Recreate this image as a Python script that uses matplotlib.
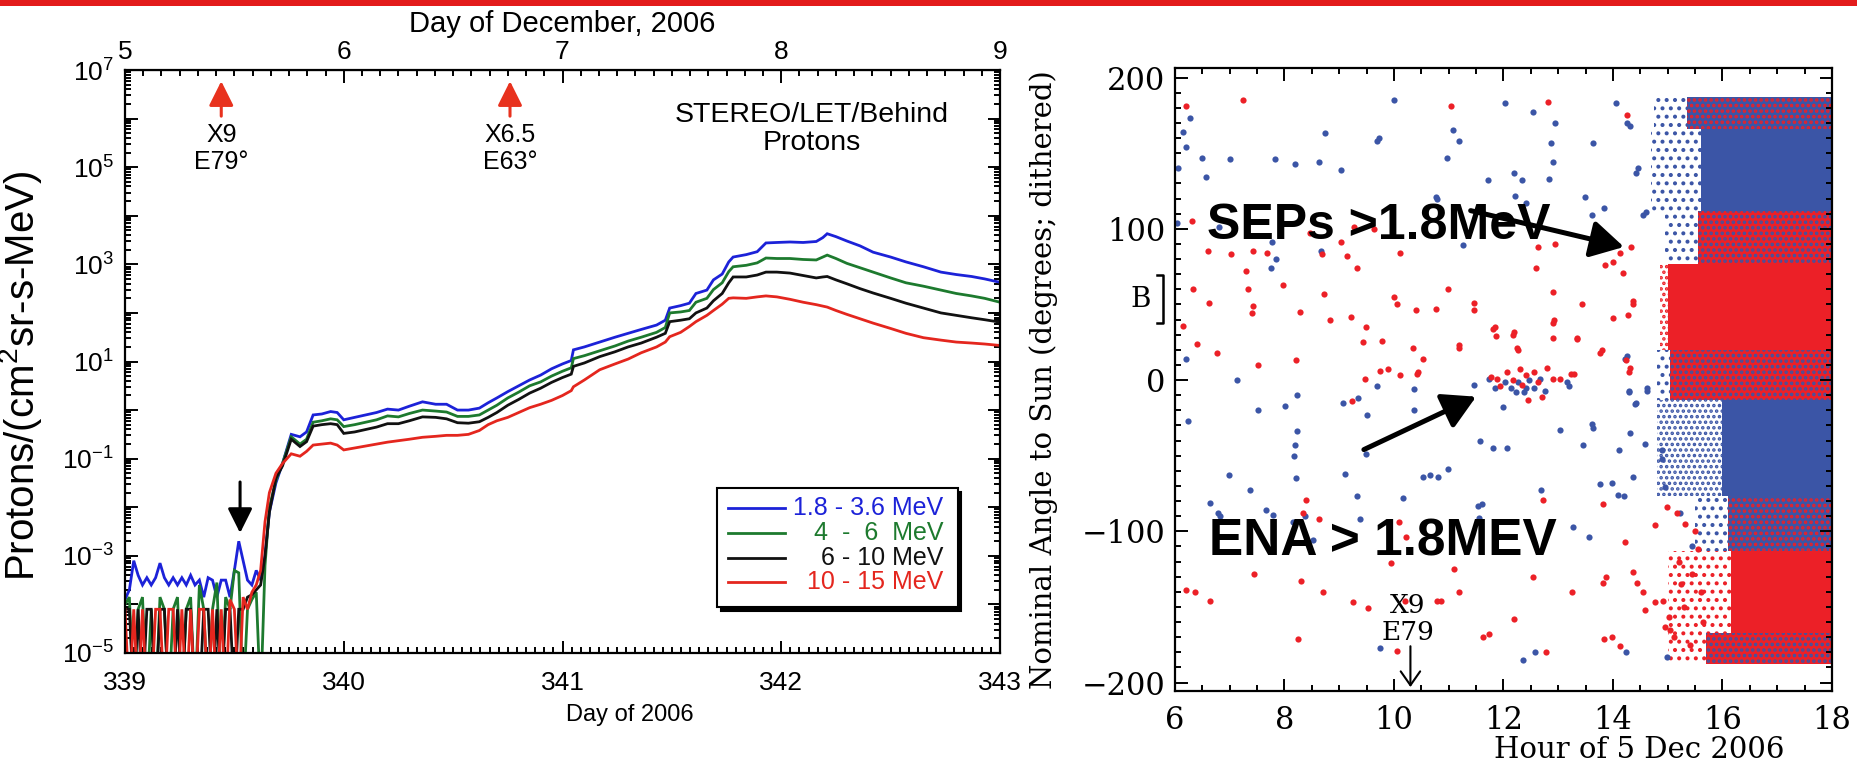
import matplotlib
matplotlib.use("Agg")
import matplotlib.pyplot as plt
import numpy as np
from matplotlib.patches import Rectangle
from matplotlib.ticker import LogLocator, MultipleLocator, FuncFormatter, NullFormatter

plt.rcParams["mathtext.fontset"] = "custom"
plt.rcParams["mathtext.rm"] = "Liberation Sans"
plt.rcParams["mathtext.it"] = "Liberation Sans:italic"
plt.rcParams["hatch.linewidth"] = 1.7

SANS = "Liberation Sans"
SERIF = "DejaVu Serif"

# ---------------- left panel: LET proton intensities (log10 values) ----------------
pre_days = [339.00, 339.02, 339.04, 339.06, 339.08, 339.10, 339.12, 339.14, 339.16, 339.18,
            339.20, 339.22, 339.24, 339.26, 339.28, 339.30, 339.32, 339.34, 339.36, 339.38,
            339.40, 339.42, 339.44, 339.46, 339.48, 339.50, 339.52, 339.54, 339.56, 339.58, 339.60]
post_days = [339.62, 339.64, 339.66, 339.69, 339.72, 339.76, 339.80, 339.83, 339.86, 339.90,
             339.94, 339.97, 340.00, 340.05, 340.10, 340.15, 340.20, 340.25, 340.30, 340.36,
             340.42, 340.47, 340.52, 340.57, 340.62, 340.66, 340.70, 340.75, 340.80, 340.85,
             340.90, 340.95, 341.00, 341.04, 341.05, 341.10, 341.17, 341.24, 341.30, 341.36,
             341.43, 341.47, 341.49, 341.54, 341.58, 341.61, 341.66, 341.69, 341.73, 341.76,
             341.78, 341.84, 341.89, 341.93, 341.98, 342.04, 342.10, 342.16, 342.19, 342.21,
             342.25, 342.30, 342.36, 342.42, 342.50, 342.57, 342.65, 342.73, 342.80, 342.87,
             342.93, 343.00]

# -6 marks zero counts (drawn below the axis floor)
blue_pre = [-3.9, -3.7, -3.1, -3.4, -3.6, -3.45, -3.6, -3.45, -3.15, -3.45,
            -3.6, -3.45, -3.6, -3.45, -3.6, -3.4, -3.6, -3.5, -3.85, -3.45,
            -3.5, -3.85, -3.5, -3.5, -3.85, -3.3, -2.7, -3.1, -3.5, -3.6, -3.3]
green_pre = [-4.0, -3.85, -6, -4.1, -3.85, -6, -4.1, -6, -3.85, -4.1,
             -6, -4.1, -3.85, -6, -4.1, -3.85, -6, -3.6, -4.1, -6,
             -4.1, -3.55, -6, -3.85, -4.1, -3.3, -3.35, -6, -4.1, -3.9, -3.75]
black_pre = [-4.1, -4.1, -6, -4.1, -6, -4.1, -4.1, -6, -4.1, -4.1,
             -6, -6, -4.1, -6, -4.1, -4.1, -6, -6, -4.1, -4.1,
             -6, -4.1, -6, -4.1, -4.1, -6, -4.1, -4.1, -3.85, -3.8, -3.7]
red_pre = [-4.1, -6, -4.1, -6, -4.1, -6, -6, -4.1, -4.1, -6,
           -4.1, -4.1, -6, -4.1, -6, -4.1, -6, -4.1, -4.1, -6,
           -4.1, -6, -4.1, -6, -3.9, -4.1, -6, -3.85, -4.1, -3.75, -3.6]

blue_post = [-3.5, -3.0, -2.1, -1.5, -1.1, -0.5, -0.55, -0.45, -0.1, -0.08,
             -0.03, -0.05, -0.2, -0.15, -0.1, -0.05, 0.02, 0.0, 0.08, 0.17,
             0.12, 0.12, 0.0, 0.0, 0.04, 0.15, 0.25, 0.38, 0.5, 0.62,
             0.72, 0.85, 0.95, 1.02, 1.24, 1.3, 1.4, 1.5, 1.58, 1.66,
             1.75, 1.85, 2.1, 2.15, 2.2, 2.4, 2.47, 2.68, 2.8, 3.05,
             3.15, 3.2, 3.26, 3.44, 3.45, 3.46, 3.45, 3.47, 3.55, 3.63,
             3.57, 3.48, 3.38, 3.25, 3.15, 3.05, 2.95, 2.84, 2.79, 2.75,
             2.7, 2.63]
green_post = [-6, -3.2, -2.0, -1.45, -1.1, -0.55, -0.7, -0.6, -0.25, -0.22,
              -0.18, -0.2, -0.34, -0.3, -0.25, -0.2, -0.12, -0.14, -0.07, 0.0,
              -0.02, -0.04, -0.13, -0.13, -0.1, 0.0, 0.1, 0.25, 0.37, 0.5,
              0.58, 0.7, 0.8, 0.87, 1.06, 1.12, 1.22, 1.32, 1.42, 1.5,
              1.6, 1.7, 2.0, 2.02, 2.05, 2.22, 2.3, 2.48, 2.62, 2.85,
              2.95, 2.98, 3.03, 3.13, 3.12, 3.12, 3.1, 3.09, 3.15, 3.19,
              3.12, 3.02, 2.93, 2.84, 2.72, 2.62, 2.55, 2.47, 2.4, 2.35,
              2.3, 2.22]
black_post = [-3.6, -3.0, -2.1, -1.4, -1.15, -0.6, -0.75, -0.65, -0.33, -0.3,
              -0.28, -0.3, -0.48, -0.45, -0.4, -0.35, -0.28, -0.28, -0.22, -0.14,
              -0.15, -0.18, -0.26, -0.27, -0.24, -0.15, -0.05, 0.1, 0.22, 0.35,
              0.45, 0.57, 0.67, 0.74, 0.9, 0.97, 1.1, 1.2, 1.3, 1.38,
              1.5, 1.58, 1.82, 1.85, 1.88, 2.0, 2.1, 2.25, 2.4, 2.62,
              2.74, 2.74, 2.78, 2.84, 2.84, 2.82, 2.77, 2.72, 2.74, 2.75,
              2.68, 2.6, 2.5, 2.41, 2.3, 2.2, 2.1, 2.0, 1.95, 1.9,
              1.86, 1.81]
red_post = [-3.3, -2.3, -1.7, -1.3, -1.1, -0.9, -0.95, -0.85, -0.72, -0.7,
            -0.68, -0.72, -0.82, -0.78, -0.74, -0.7, -0.66, -0.63, -0.6, -0.56,
            -0.54, -0.52, -0.52, -0.5, -0.42, -0.3, -0.22, -0.15, -0.05, 0.05,
            0.12, 0.2, 0.3, 0.4, 0.48, 0.62, 0.83, 0.95, 1.05, 1.18,
            1.3, 1.4, 1.51, 1.6, 1.72, 1.82, 1.95, 2.05, 2.18, 2.3,
            2.31, 2.3, 2.33, 2.35, 2.33, 2.28, 2.22, 2.17, 2.14, 2.12,
            2.05, 1.97, 1.88, 1.79, 1.68, 1.58, 1.49, 1.44, 1.4, 1.38,
            1.36, 1.33]

channels = ["1.8 - 3.6 MeV", "4  -  6  MeV", "6 - 10 MeV", "10 - 15 MeV"]
chan_colors = ["#1c22d8", "#1d7a2e", "#111111", "#e4261e"]
chan_pre = [blue_pre, green_pre, black_pre, red_pre]
chan_post = [blue_post, green_post, black_post, red_post]

flares = ["X9\nE79°", "X6.5\nE63°"]
flare_days = [339.44, 340.76]
onset_day = 339.526

# ---------------- right panel: nominal angle vs hour (sparse events) ----------------
red_hour = [6.21, 7.24, 6.31, 6.60, 7.02, 7.43, 7.68, 7.30, 6.32, 7.33, 6.62, 7.42, 7.41, 6.15, 6.40,
            6.77, 7.52, 8.21, 7.97, 8.28, 8.46, 8.68, 8.72, 8.83, 9.04, 9.14, 9.33, 9.21, 9.27, 9.63,
            9.49, 9.43, 9.78, 10.00, 10.05, 10.11, 10.41, 10.77, 10.35, 10.53, 9.74, 9.89, 9.47, 10.11, 10.44,
            11.05, 12.81, 14.25, 12.63, 12.94, 12.60, 14.33, 14.13, 14.00, 13.85, 14.18, 10.99, 12.90, 13.43, 14.37,
            11.46, 11.46, 12.92, 14.00, 14.28, 11.84, 11.87, 12.19, 12.90, 13.34, 11.19, 12.25, 13.79, 14.31, 13.77,
            14.24, 14.30, 12.26, 11.18, 10.42, 12.18, 11.81, 12.90, 13.35, 14.36,
            6.20, 6.37, 6.64, 7.44, 8.24, 8.31, 8.70, 8.39, 8.34, 8.63, 9.25, 9.53, 9.95, 10.05, 10.09,
            10.22, 10.20, 10.78, 9.23, 12.72, 13.81, 11.09, 11.19, 10.86, 12.54, 13.26, 12.19, 11.63, 11.74, 12.77,
            14.22, 12.63, 13.82, 13.88, 14.36, 14.44, 14.55, 14.58, 14.77, 13.84, 13.98, 14.13, 14.77, 14.91, 15.02,
            14.98, 15.16, 15.32, 15.20, 15.25, 15.30, 15.05, 15.12, 14.95, 15.40, 15.45, 15.55, 15.60, 15.65, 15.50,
            11.77, 12.06, 12.18, 12.30, 12.42, 12.55, 12.63, 12.79, 12.91, 13.04, 13.24, 13.28, 12.45, 12.71, 11.93,
            12.33, 11.89]
red_angle = [181, 185, 105, 85, 83, 85, 84, 72, 60, 60, 51, 49, 44, 36, 24,
             18, 10, 13, 63, 45, 97, 83, 57, 40, 91, 82, 74, 42, 101, 100,
             35, 25, 26, 55, 50, 84, 46, 47, 21, 14, 6, 7, 1, 3, 5,
             181, 184, 175, 88, 90, 74, 88, 84, 78, 76, 71, 60, 58, 50, 52,
             51, 46, 40, 41, 43, 35, 29, 32, 28, 28, 23, 21, 20, 8, 18,
             13, 5, 20, 21, 4, 30, 34, 38, 27, 50,
             -139, -140, -146, -128, -171, -133, -140, -79, -88, -92, -147, -151, -121, -179, -94,
             -104, -146, -146, -14, -79, -82, -125, -140, -146, -130, -140, -158, -170, -168, -180,
             -107, -113, -134, -130, -127, -134, -140, -152, -96, -171, -170, -176, -147, -146, -157,
             -84, -88, -95, -120, -135, -150, -165, -170, -163, -175, -128, -112, -140, -160, -100,
             2, 5, 0, 7, 3, 5, -1, 8, 1, 1, 4, 4, -13, -11, -4,
             -3, 1]

blue_hour = [6.27, 6.15, 6.20, 6.49, 7.00, 6.05, 6.57, 7.83, 8.20, 8.63, 9.04, 8.74, 9.69, 9.73, 10.00,
             6.03, 6.80, 7.77, 7.84, 7.76, 8.66, 6.20, 10.78, 7.14,
             12.03, 12.54, 12.94, 14.05, 14.25, 14.31, 11.07, 11.19, 10.96, 12.86, 13.63, 12.91, 11.72, 12.19, 12.34,
             12.83, 14.46, 14.42, 10.77, 12.21, 12.41, 13.49, 13.84, 13.61, 13.70, 14.55, 14.61, 11.26, 14.25, 14.22,
             6.23, 7.52, 8.01, 8.22, 8.22, 8.19, 8.17, 8.21, 9.07, 9.34, 9.50, 9.69, 10.37, 10.37, 9.49,
             6.99, 7.37, 6.64, 6.79, 6.83, 7.67, 7.79, 8.16, 8.37, 8.52, 9.11, 9.32, 9.38, 10.17, 9.74,
             11.46, 11.99, 13.03, 13.61, 13.63, 14.29, 14.62, 14.42, 14.31, 11.57, 11.81, 12.06, 13.45, 14.11, 14.58,
             10.53, 10.66, 10.80, 10.99, 12.68, 13.76, 13.99, 14.09, 14.20, 14.37, 14.89, 14.89, 14.95, 11.53, 11.60,
             11.55, 13.27, 13.56, 15.22, 15.44, 14.24, 12.58, 12.36, 14.98, 14.30, 14.40, 14.63,
             11.73, 11.85, 12.02, 12.14, 12.26, 12.37, 12.47, 12.56, 12.67, 12.75, 13.16, 13.20, 12.22, 12.42]
blue_angle = [173, 164, 154, 147, 146, 140, 134, 146, 143, 144, 139, 163, 158, 160, 185,
              104, 101, 91, 80, 74, 85, 14, 120, 0,
              183, 177, 170, 183, 170, 168, 165, 158, 147, 157, 157, 144, 132, 137, 132,
              133, 140, 137, 121, 122, 117, 121, 114, 109, 100, 109, 111, 89, 16, 14,
              -27, -20, -17, -10, -34, -43, -50, -65, -15, -12, -23, -4, -6, -20, -49,
              -63, -73, -81, -88, -90, -86, -89, -94, -90, -106, -62, -77, -92, -78, -177,
              -3, -18, -33, -29, -32, -7, -5, -15, -35, -40, -45, -45, -43, -46, -42,
              -64, -63, -64, -59, -73, -69, -68, -76, -77, -64, -46, -52, -71, -83, -82,
              -91, -97, -104, -88, -110, -180, -180, -185, -183, -8, -16, -7,
              1, -5, -1, -5, -1, -8, 0, -5, 1, -7, -1, -4, -8, -5]

# dense SEP block after ~15 h, as angular bands
band_top = [187, 166, 112, 77, 20, -13, -77, -113, -167]
band_bottom = [166, 112, 77, 20, -13, -77, -113, -167, -188]
band_onset = [15.35, 15.6, 15.55, 15.0, 15.05, 16.0, 16.1, 16.15, 15.7]
band_fill = ["blue", "blue", "red", "red", "red", "blue", "blue", "red", "red"]
band_speckle = ["red", None, "blue", None, "blue", None, "red", None, "blue"]
edge_start = [14.75, 14.7, 14.95, 14.85, 14.8, 14.8, 15.5, 15.0, 15.0]
edge_color = ["blue", "blue", "blue", "red", "blue", "blue", "blue", "red", "red"]
edge_hatch = ["..", "..", "..", "...", "..", "...", "..", "..", ".."]

DOT = {"red": "#ec2027", "blue": "#3b55a6"}

fig = plt.figure(figsize=(18.58, 7.66), dpi=100)
fig.patch.set_facecolor("white")

# ================= left panel =================
ax = fig.add_axes([125 / 1858, 1 - 653 / 766, 875 / 1858, 583 / 766])
for pre, post, col in zip(chan_pre, chan_post, chan_colors):
    x = np.array(pre_days + post_days)
    y = 10.0 ** np.array(pre + post)
    ax.plot(x, y, color=col, lw=2.0, solid_joinstyle="miter")

ax.set_yscale("log")
ax.set_xlim(339, 343)
ax.set_ylim(1e-5, 1e7)
ax.set_xticks([339, 340, 341, 342, 343])
ax.xaxis.set_minor_locator(MultipleLocator(1 / 24))
ax.yaxis.set_major_locator(LogLocator(base=10, numticks=20))
ax.yaxis.set_minor_locator(LogLocator(base=10, subs=np.arange(2, 10), numticks=20))
ax.yaxis.set_minor_formatter(NullFormatter())


def odd_power(v, pos):
    e = int(round(np.log10(v)))
    return f"10$^{{{e}}}$" if e % 2 else ""


ax.yaxis.set_major_formatter(FuncFormatter(odd_power))
ax.tick_params(which="both", direction="in", top=False, right=True, width=1.4)
ax.tick_params(which="major", length=9, labelsize=19, pad=8)
ax.tick_params(axis="x", which="major", pad=13)
ax.tick_params(which="minor", length=4.5)
for lab in ax.get_xticklabels() + ax.get_yticklabels():
    lab.set_family(SANS)
for sp in ax.spines.values():
    sp.set_linewidth(1.6)

ax.set_xlabel("Day of 2006", family=SANS, fontsize=17)
ax.xaxis.set_label_coords(0.577, -0.088)
ax.set_ylabel("Protons/(cm$^2$sr-s-MeV)", family=SANS, fontsize=29)
ax.yaxis.set_label_coords(-0.093, 0.475)

top = ax.secondary_xaxis("top", functions=(lambda d: d - 334, lambda d: d + 334))
top.set_xticks([5, 6, 7, 8, 9])
top.xaxis.set_minor_locator(MultipleLocator(1 / 12))
top.tick_params(which="both", direction="in", width=1.4)
top.tick_params(which="major", length=9, labelsize=19, pad=4)
top.tick_params(which="minor", length=4.5)
for lab in top.get_xticklabels():
    lab.set_family(SANS)
top.set_xlabel("Day of December, 2006", family=SANS, fontsize=21, labelpad=6)

ax.text(0.785, 0.923, "STEREO/LET/Behind", transform=ax.transAxes, ha="center", va="center",
        family=SANS, fontsize=20.5)
ax.text(0.785, 0.875, "Protons", transform=ax.transAxes, ha="center", va="center",
        family=SANS, fontsize=20.5)

for name, d in zip(flares, flare_days):
    ax.annotate("", xy=(d, 10 ** 6.77), xytext=(d, 10 ** 6.05),
                arrowprops=dict(arrowstyle="-|>,head_length=0.6,head_width=0.3",
                                color="#e8321e", lw=2.2, mutation_scale=25, shrinkA=0, shrinkB=0))
    ax.text(d, 10 ** 5.38, name, ha="center", va="center", family=SANS, fontsize=18,
            linespacing=1.15)
ax.annotate("", xy=(onset_day, 10 ** -2.53), xytext=(onset_day, 10 ** -1.48),
            arrowprops=dict(arrowstyle="-|>,head_length=0.6,head_width=0.3",
                            color="black", lw=2.2, mutation_scale=25, shrinkA=0, shrinkB=0))

# legend box with drop shadow
ax.add_patch(Rectangle((0.6806, 0.0720), 0.2754, 0.2044, transform=ax.transAxes,
                       facecolor="black", edgecolor="black", lw=1.5, zorder=5))
ax.add_patch(Rectangle((0.6766, 0.0789), 0.2754, 0.2044, transform=ax.transAxes,
                       facecolor="white", edgecolor="black", lw=1.5, zorder=6))
leg_y = [0.2487, 0.2058, 0.1630, 0.1218]
for lab, col, yy in zip(channels, chan_colors, leg_y):
    ax.plot([0.6891, 0.7543], [yy, yy], color=col, lw=2.0, transform=ax.transAxes, zorder=7)
    ax.text(0.9349, yy, lab, color=col, transform=ax.transAxes, ha="right", va="center",
            family=SANS, fontsize=18, zorder=7)

# ================= right panel =================
bx = fig.add_axes([1175 / 1858, 1 - 691 / 766, 657 / 1858, 623 / 766])

for t, b, on, fill, speck, es, ec, eh in zip(band_top, band_bottom, band_onset, band_fill,
                                             band_speckle, edge_start, edge_color, edge_hatch):
    bx.barh((t + b) / 2, on - es, left=es, height=t - b, facecolor="none",
            hatch=eh, edgecolor=DOT[ec], lw=0, zorder=1)
    bx.barh((t + b) / 2, 18.2 - on, left=on, height=t - b, facecolor=DOT[fill],
            edgecolor=DOT[speck] if speck else DOT[fill], hatch="..." if speck else None,
            lw=0, zorder=1)

bx.scatter(blue_hour, blue_angle, s=20, color=DOT["blue"], lw=0, zorder=2)
bx.scatter(red_hour, red_angle, s=20, color=DOT["red"], lw=0, zorder=2)

bx.set_xlim(6, 18)
bx.set_ylim(-205.6, 206.3)
bx.set_xticks([6, 8, 10, 12, 14, 16, 18])
bx.set_yticks([-200, -100, 0, 100, 200])
bx.xaxis.set_minor_locator(MultipleLocator(0.5))
bx.yaxis.set_minor_locator(MultipleLocator(10))
bx.tick_params(which="both", direction="in", top=True, right=True, width=1.4)
bx.tick_params(which="major", length=9, labelsize=22)
bx.tick_params(axis="x", which="major", pad=10)
bx.tick_params(axis="y", which="major", pad=7)
bx.tick_params(which="minor", length=4.5)
for lab in bx.get_xticklabels() + bx.get_yticklabels():
    lab.set_family(SERIF)
for sp in bx.spines.values():
    sp.set_linewidth(1.6)

bx.set_ylabel("Nominal Angle to Sun (degrees; dithered)", family=SERIF, fontsize=21)
bx.yaxis.set_label_coords(-0.178, 0.50)
bx.set_xlabel("Hour of 5 Dec 2006", family=SERIF, fontsize=21)
bx.xaxis.set_label_coords(0.706, -0.072)

bx.text(6.58, 102, "SEPs >1.8MeV", family=SANS, weight="bold", fontsize=36,
        ha="left", va="center", zorder=4)
bx.text(6.62, -107, "ENA > 1.8MEV", family=SANS, weight="bold", fontsize=37,
        ha="left", va="center", zorder=4)
bx.annotate("", xy=(14.2, 88), xytext=(11.4, 112),
            arrowprops=dict(arrowstyle="-|>,head_length=0.8,head_width=0.45", color="black",
                            lw=3.6, mutation_scale=25, shrinkA=0, shrinkB=0), zorder=5)
bx.annotate("", xy=(11.5, -11), xytext=(9.45, -46),
            arrowprops=dict(arrowstyle="-|>,head_length=0.8,head_width=0.45", color="black",
                            lw=3.6, mutation_scale=25, shrinkA=0, shrinkB=0), zorder=5)

bx.text(10.25, -149, "X9", family=SERIF, fontsize=19, ha="center", va="center", zorder=4)
bx.text(10.25, -167, "E79", family=SERIF, fontsize=19, ha="center", va="center", zorder=4)
bx.annotate("", xy=(10.3, -203), xytext=(10.3, -176),
            arrowprops=dict(arrowstyle="->,head_length=0.5,head_width=0.35", color="black",
                            lw=1.5, mutation_scale=20, shrinkA=0, shrinkB=0),
            annotation_clip=False)

# beam width marker left of the axis
bx.plot([5.67, 5.78, 5.78, 5.67], [69.4, 69.4, 37.7, 37.7], color="black", lw=1.8,
        clip_on=False)
bx.text(5.38, 53, "B", family=SERIF, fontsize=20, ha="center", va="center")

# red rule along the top of the page
fig.add_artist(Rectangle((0, 1 - 6 / 766), 1, 6 / 766, transform=fig.transFigure,
                         facecolor="#e31b1b", edgecolor="none"))

fig.savefig("out.png", dpi=100)
